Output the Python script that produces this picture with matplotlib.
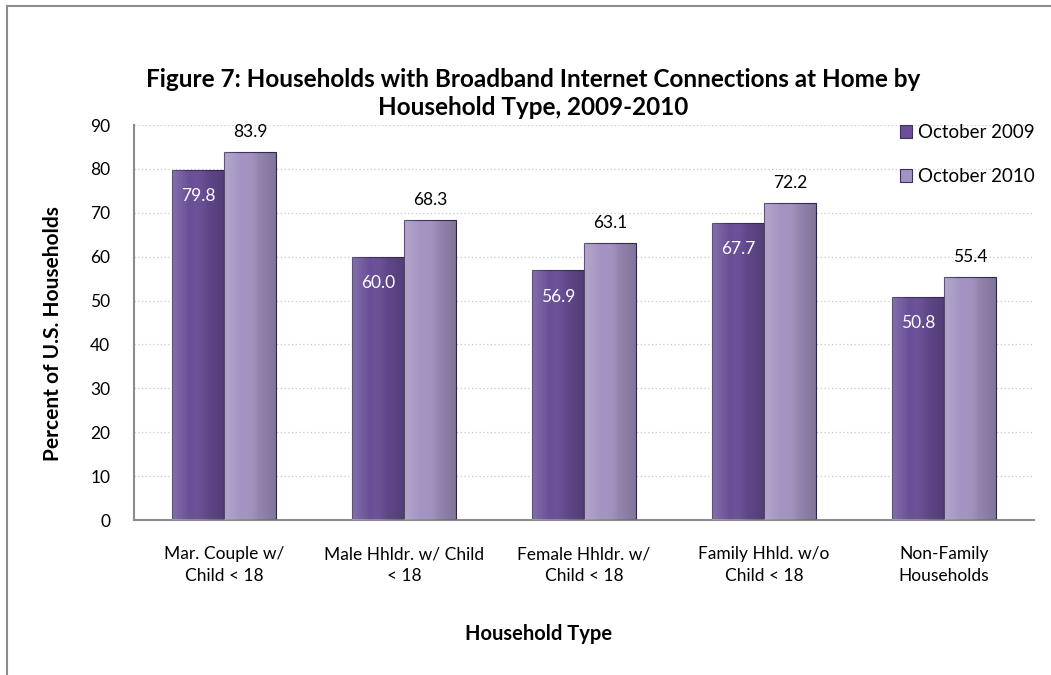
import numpy as np
import matplotlib.pyplot as plt
from matplotlib.lines import Line2D
from matplotlib.colors import LinearSegmentedColormap

plt.rcParams['font.family'] = ['Lato', 'DejaVu Sans']

categories = ["Mar. Couple w/\nChild < 18", "Male Hhldr. w/ Child\n< 18",
              "Female Hhldr. w/\nChild < 18", "Family Hhld. w/o\nChild < 18",
              "Non-Family\nHouseholds"]
oct_2009 = [79.8, 60.0, 56.9, 67.7, 50.8]
oct_2010 = [83.9, 68.3, 63.1, 72.2, 55.4]
series_names = ["October 2009", "October 2010"]

DARK = "#6a4f98"
LIGHT = "#a493c2"
EDGE = "#3e2f5c"


def shade(ax, bars):
    # horizontal light-to-dark gradient clipped to each bar
    cmap = LinearSegmentedColormap.from_list(
        "g", [(1, 1, 1, 0.18), (1, 1, 1, 0.0), (0, 0, 0, 0.10), (0, 0, 0, 0.22)])
    grad = np.linspace(0, 1, 64).reshape(1, -1)
    for b in bars:
        x0, y0 = b.get_x(), b.get_y()
        w, h = b.get_width(), b.get_height()
        im = ax.imshow(grad, cmap=cmap, extent=(x0, x0 + w, y0, y0 + h),
                       aspect="auto", zorder=3, interpolation="bilinear")
        im.set_clip_path(b)


fig = plt.figure(figsize=(10.51, 6.75), dpi=100)
ax = fig.add_axes([0.1275, 0.2296, 0.8563, 0.5852])

x = np.arange(len(categories))
w = 0.29
b1 = ax.bar(x - w / 2, oct_2009, w, color=DARK, edgecolor=EDGE, linewidth=0.8,
            label=series_names[0], zorder=2)
b2 = ax.bar(x + w / 2, oct_2010, w, color=LIGHT, edgecolor=EDGE, linewidth=0.8,
            label=series_names[1], zorder=2)
shade(ax, b1)
shade(ax, b2)

for xi, v in zip(x - w / 2, oct_2009):
    ax.text(xi, v - 6, f"{v:.1f}", ha="center", va="center", color="white",
            fontsize=12.5, zorder=5)
for xi, v in zip(x + w / 2, oct_2010):
    ax.text(xi, v + 4.6, f"{v:.1f}", ha="center", va="center", color="black",
            fontsize=12.5, zorder=5)

ax.set_xlim(-0.5, 4.5)
ax.set_ylim(0, 90)
ax.set_yticks(range(0, 91, 10))
ax.set_xticks(x)
ax.set_xticklabels(categories, linespacing=1.45)
ax.tick_params(axis="both", length=0, labelsize=12.5)
ax.tick_params(axis="y", pad=17)
ax.tick_params(axis="x", pad=19)
ax.yaxis.grid(True, color="#c8c8c8", linestyle=(0, (1, 2)), linewidth=0.9)
ax.set_axisbelow(True)
for s in ["top", "right"]:
    ax.spines[s].set_visible(False)
for s in ["left", "bottom"]:
    ax.spines[s].set_color("#8c8c8c")
    ax.spines[s].set_linewidth(1.5)

ax.set_ylabel("Percent of U.S. Households", fontsize=15, fontweight="bold")
ax.yaxis.set_label_coords(-0.079, 0.473)
ax.set_xlabel("Household Type", fontsize=14.5, fontweight="bold")
ax.xaxis.set_label_coords(0.449, -0.262)

fig.text(0.507, 0.8615, "Figure 7: Households with Broadband Internet Connections at Home by\n"
         "Household Type, 2009-2010", ha="center", va="center", fontsize=17.5,
         fontweight="bold", linespacing=1.3)

leg = ax.legend(loc="upper left", bbox_to_anchor=(0.851, 1.002), frameon=False,
                fontsize=13.5, handlelength=0.65, handleheight=0.65,
                handletextpad=0.3, labelspacing=1.43, borderaxespad=0,
                borderpad=0)

# outer chart border (left and top edges visible)
fig.add_artist(Line2D([0.0067, 0.0067], [0, 0.991], color="#8c8c8c", lw=1.5))
fig.add_artist(Line2D([0.0067, 1], [0.991, 0.991], color="#8c8c8c", lw=1.5))

fig.savefig("out.png", dpi=100)
